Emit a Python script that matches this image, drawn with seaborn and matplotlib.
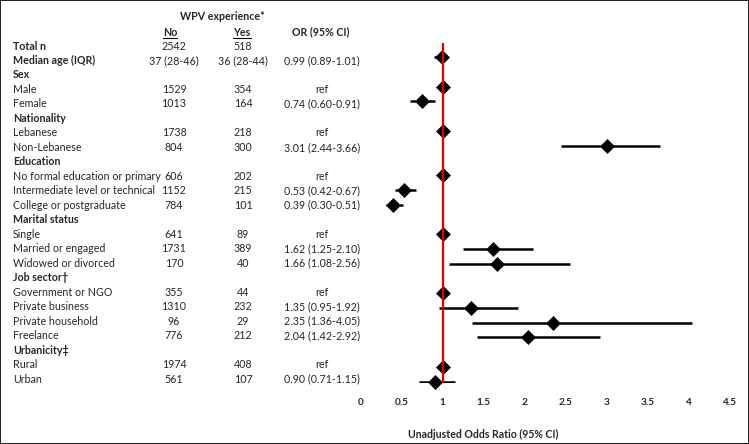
import numpy as np
import pandas as pd
import matplotlib.pyplot as plt
import seaborn as sns

sns.set_theme(style="white")
plt.rcParams['font.family'] = ['Lato', 'DejaVu Sans']

labels = ["Total n", "Median age (IQR)", "Sex", "Male", "Female", "Nationality",
          "Lebanese", "Non-Lebanese", "Education", "No formal education or primary",
          "Intermediate level or technical", "College or postgraduate", "Marital status",
          "Single", "Married or engaged", "Widowed or divorced", "Job sector\u2020",
          "Government or NGO", "Private business", "Private household", "Freelance",
          "Urbanicity\u2021", "Rural", "Urban"]
bold = [True, True, True, False, False, True, False, False, True, False, False, False,
        True, False, False, False, True, False, False, False, False, True, False, False]
n_no = ["2542", "37 (28-46)", "", "1529", "1013", "", "1738", "804", "", "606", "1152",
        "784", "", "641", "1731", "170", "", "355", "1310", "96", "776", "", "1974", "561"]
n_yes = ["518", "36 (28-44)", "", "354", "164", "", "218", "300", "", "202", "215",
         "101", "", "89", "389", "40", "", "44", "232", "29", "212", "", "408", "107"]
or_text = ["", "0.99 (0.89-1.01)", "", "ref", "0.74 (0.60-0.91)", "", "ref",
           "3.01 (2.44-3.66)", "", "ref", "0.53 (0.42-0.67)", "0.39 (0.30-0.51)", "",
           "ref", "1.62 (1.25-2.10)", "1.66 (1.08-2.56)", "", "ref", "1.35 (0.95-1.92)",
           "2.35 (1.36-4.05)", "2.04 (1.42-2.92)", "", "ref", "0.90 (0.71-1.15)"]
nan = np.nan
odds = [nan, 0.99, nan, 1, 0.74, nan, 1, 3.01, nan, 1, 0.53, 0.39, nan,
        1, 1.62, 1.66, nan, 1, 1.35, 2.35, 2.04, nan, 1, 0.90]
ci_low = [nan, 0.89, nan, 1, 0.60, nan, 1, 2.44, nan, 1, 0.42, 0.30, nan,
          1, 1.25, 1.08, nan, 1, 0.95, 1.36, 1.42, nan, 1, 0.71]
ci_high = [nan, 1.01, nan, 1, 0.91, nan, 1, 3.66, nan, 1, 0.67, 0.51, nan,
           1, 2.10, 2.56, nan, 1, 1.92, 4.05, 2.92, nan, 1, 1.15]
x_ticks = [0, 0.5, 1, 1.5, 2, 2.5, 3, 3.5, 4, 4.5]

W, H = 749, 444
fig = plt.figure(figsize=(W / 100, H / 100), dpi=100, linewidth=1.2, edgecolor='#222222')

# table part: x in pixels, y in row units
row0, step = 46, 14.48
tab = fig.add_axes([0, 0, 1, 1])
tab.set_xlim(0, W)
tab.set_ylim((H - row0) / step, -row0 / step)
tab.axis('off')

fs = 7.7
for i, lab in enumerate(labels):
    w = 'bold' if bold[i] else 'normal'
    tab.text(13, i, lab, fontsize=fs, fontweight=w, va='center', ha='left')
    tab.text(174, i, n_no[i], fontsize=fs, va='center', ha='center')
    tab.text(243, i, n_yes[i], fontsize=fs, va='center', ha='center')
    tab.text(322, i, or_text[i], fontsize=fs, va='center', ha='center')

hdr = (32 - row0) / step
tab.text(222, (16 - row0) / step, "WPV experience*", fontsize=fs, fontweight='bold',
         va='center', ha='center')
tab.text(170, hdr, "No", fontsize=fs, fontweight='bold', va='center', ha='center')
tab.text(242, hdr, "Yes", fontsize=fs, fontweight='bold', va='center', ha='center')
tab.text(321, hdr, "OR (95% CI)", fontsize=fs, fontweight='bold', va='center', ha='center')
ul = (38 - row0) / step
tab.plot([163, 177], [ul, ul], color='black', lw=0.8)
tab.plot([233, 251], [ul, ul], color='black', lw=0.8)

# forest plot
df = pd.DataFrame({"row": np.arange(len(labels)), "odds": odds,
                   "lo": ci_low, "hi": ci_high}).dropna()
ax = fig.add_axes([361 / W, (H - 383) / H, (729 - 361) / W, (383 - 43) / H])
ax.patch.set_alpha(0)
ax.hlines(df["row"], df["lo"], df["hi"], color='black', lw=1.8, zorder=2)
sns.scatterplot(data=df, x="odds", y="row", marker='D', s=58, color='black',
                edgecolor='black', linewidth=0, ax=ax, zorder=3, legend=False,
                clip_on=False)
ax.axvline(1, color='#e00000', lw=1.6, zorder=4)
ax.set_xlim(0, 4.5)
ax.set_ylim(1 + (383 - 57) / 14.76, 1 + (43 - 57) / 14.76)
ax.set_xticks(x_ticks)
ax.set_xticklabels([f"{t:g}" for t in x_ticks], fontsize=7.2, fontweight='bold')
ax.set_yticks([])
ax.set_ylabel("")
ax.tick_params(axis='x', length=0, pad=11)
for s in ax.spines.values():
    s.set_visible(False)
ax.set_xlabel("Unadjusted Odds Ratio (95% CI)", fontsize=7.6, fontweight='bold')
ax.xaxis.set_label_coords((483 - 361) / (729 - 361), -0.135)

fig.savefig("out.png", dpi=100)
